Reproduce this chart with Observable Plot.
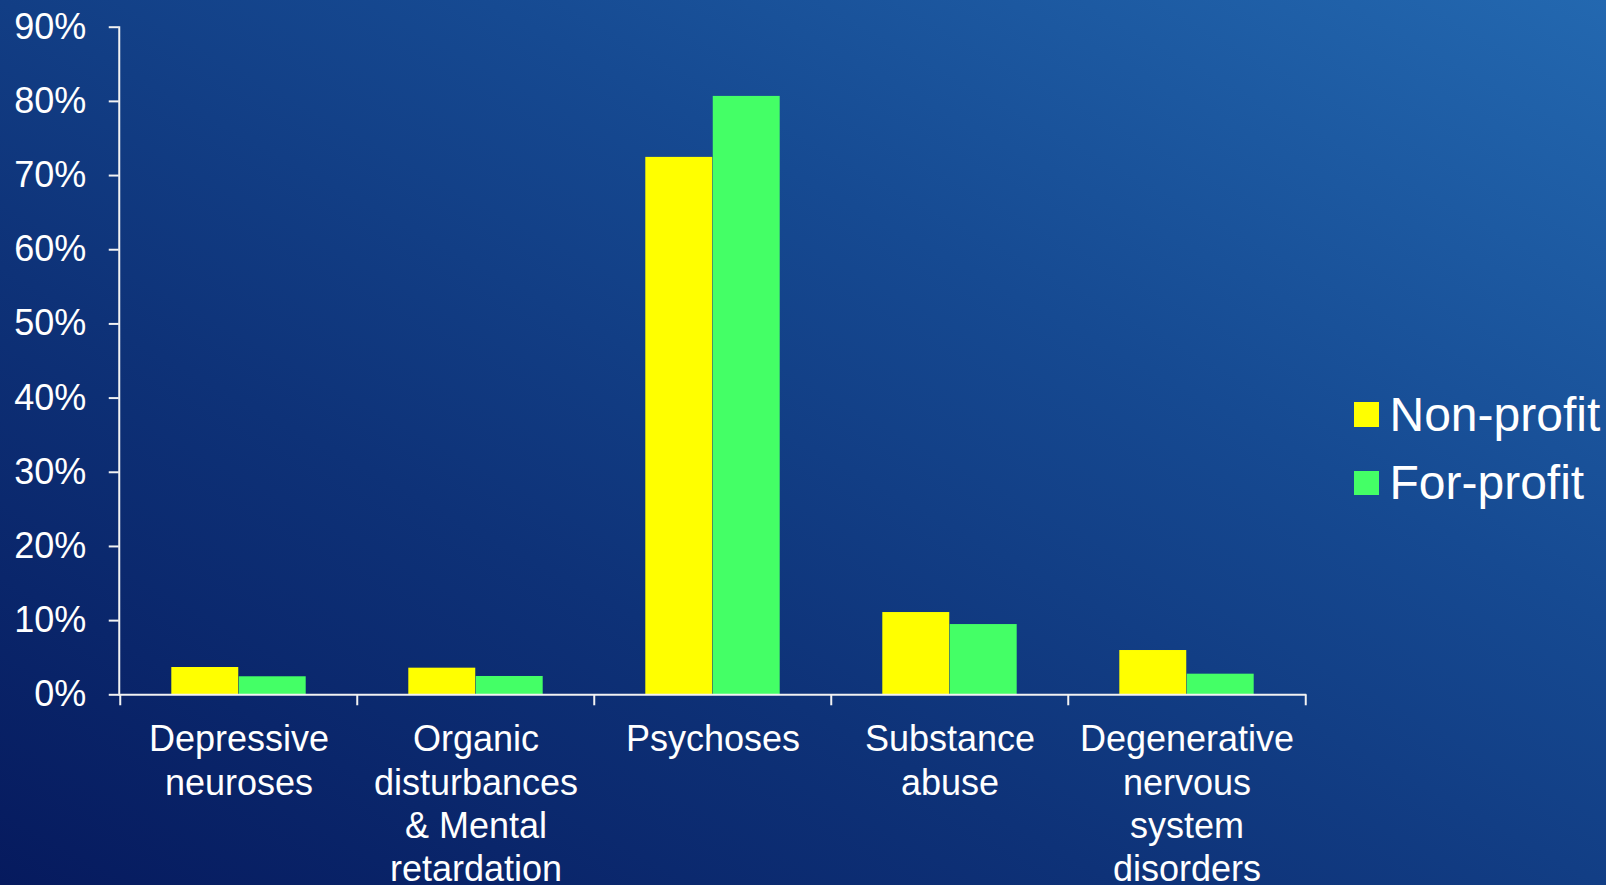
<!DOCTYPE html>
<html>
<head>
<meta charset="utf-8">
<script src="https://cdn.jsdelivr.net/npm/d3@7"></script>
<script src="https://cdn.jsdelivr.net/npm/@observablehq/plot@0.6"></script>
<style>
  html, body { margin: 0; padding: 0; }
  body {
    width: 1606px; height: 885px; overflow: hidden; position: relative;
    background: linear-gradient(to top right, #061a5e 0%, #0e3278 35%, #164a92 65%, #2368b0 100%);
    font-family: "Liberation Sans", Arial, sans-serif;
  }
  #chart { position: absolute; left: 0; top: 0; }
  #legend { position: absolute; left: 1354px; top: 394px; color: #fff; font-size: 48px; }
  #legend .row { display: flex; align-items: center; height: 41px; margin-bottom: 27.7px; }
  #legend .sw { width: 24.5px; height: 24.5px; margin-right: 11px; }
  #legend span { line-height: 1; white-space: nowrap; }
</style>
</head>
<body>
<div id="chart"></div>
<div id="legend"></div>
<script>
const categories = [
  "Depressive neuroses",
  "Organic disturbances & Mental retardation",
  "Psychoses",
  "Substance abuse",
  "Degenerative nervous system disorders"
];
const categoryLabels = [
  "Depressive\nneuroses",
  "Organic\ndisturbances\n& Mental\nretardation",
  "Psychoses",
  "Substance\nabuse",
  "Degenerative\nnervous\nsystem\ndisorders"
];
const seriesNames = ["Non-profit", "For-profit"];
const seriesColors = ["#ffff00", "#44ff66"];
const nonProfit = [0.0368, 0.0359, 0.7245, 0.1109, 0.0597];
const forProfit = [0.0243, 0.0247, 0.8067, 0.0947, 0.0278];
const yTicks = [0, 0.1, 0.2, 0.3, 0.4, 0.5, 0.6, 0.7, 0.8, 0.9];

const rows = [];
categories.forEach((c, i) => {
  rows.push({category: c, series: seriesNames[0], value: nonProfit[i]});
  rows.push({category: c, series: seriesNames[1], value: forProfit[i]});
});

const W = 1606, H = 885;
const mL = 118.75, mR = 299.75, mT = 26.7, mB = 190.7;
const bw = (W - mL - mR) / categories.length;
const labelOf = new Map(categories.map((c, i) => [c, categoryLabels[i]]));

const chart = Plot.plot({
  width: W, height: H,
  marginLeft: mL, marginRight: mR, marginTop: mT, marginBottom: mB,
  style: {background: "transparent", color: "#fff", fontFamily: "'Liberation Sans', Arial, sans-serif", overflow: "visible"},
  x: {domain: categories, padding: 0},
  y: {domain: [0, 0.9]},
  color: {domain: seriesNames, range: seriesColors},
  marks: [
    Plot.barY(rows.filter(d => d.series === seriesNames[0]), {
      x: "category", y: "value", fill: "series",
      insetLeft: bw * 0.216, insetRight: bw * 0.5
    }),
    Plot.barY(rows.filter(d => d.series === seriesNames[1]), {
      x: "category", y: "value", fill: "series",
      insetLeft: bw * 0.5, insetRight: bw * 0.216
    }),
    Plot.frame({anchor: "left", stroke: "#f2f2f2", strokeWidth: 2}),
    Plot.ruleY([0], {stroke: "#f2f2f2", strokeWidth: 2}),
    Plot.ruleX(categories, {x: d => d, y1: 0, y2: -0.0148, dx: -bw / 2, stroke: "#f2f2f2", strokeWidth: 2}),
    Plot.ruleX([categories[categories.length - 1]], {x: d => d, y1: 0, y2: -0.0148, dx: bw / 2, stroke: "#f2f2f2", strokeWidth: 2}),
    Plot.axisY({
      ticks: yTicks, tickFormat: d3.format(".0%"), tickSize: 10, tickPadding: 23,
      fontSize: 36, stroke: "#f2f2f2", strokeWidth: 2, label: null, fill: "#fff"
    }),
    Plot.axisX({
      tickSize: 0, tickPadding: 26, fontSize: 36, lineHeight: 1.2,
      tickFormat: d => labelOf.get(d), label: null, fill: "#fff", textOverflow: null
    })
  ]
});
document.getElementById("chart").appendChild(chart);

const legend = document.getElementById("legend");
seriesNames.forEach((s, i) => {
  const row = document.createElement("div");
  row.className = "row";
  const sw = document.createElement("div");
  sw.className = "sw";
  sw.style.background = seriesColors[i];
  const t = document.createElement("span");
  t.textContent = s;
  row.appendChild(sw); row.appendChild(t);
  legend.appendChild(row);
});
</script>
</body>
</html>
